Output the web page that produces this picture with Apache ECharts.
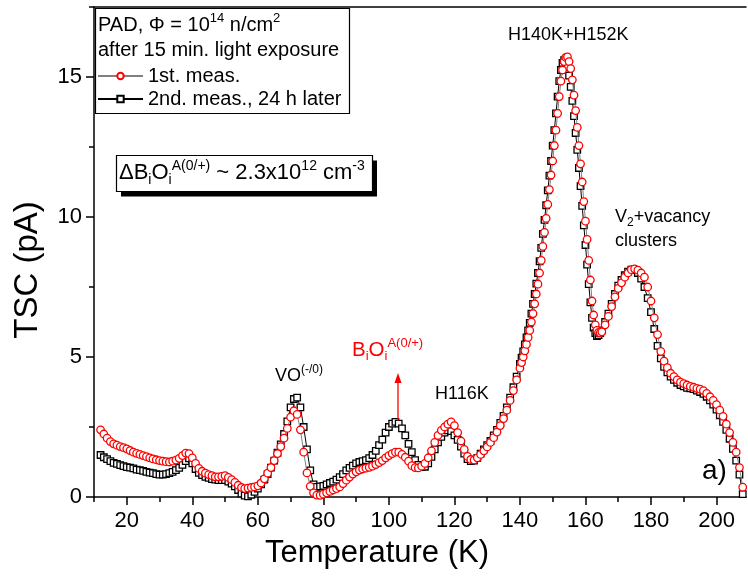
<!DOCTYPE html>
<html><head><meta charset="utf-8">
<script src="https://cdn.jsdelivr.net/npm/echarts@6/dist/echarts.min.js"></script>
<style>html,body{margin:0;padding:0;background:#fff}#c{width:748px;height:579px}</style>
</head><body><div id="c"></div>
<script>
// Temperature (K) sample points
var temps = [12,13,14,15,16,17,18,19,20,21,22,23,24,25,26,27,28,29,30,31,32,33,34,35,36,37,38,39,40,41,
42,43,44,45,46,47,48,49,50,51,52,53,54,55,56,57,58,59,60,61,62,63,64,65,66,67,68,69,70,71,
72,73,74,75,76,77,78,79,80,81,82,83,84,85,86,87,88,89,90,91,92,93,94,95,96,97,98,99,100,101,
102,103,104,105,106,107,108,109,110,111,112,113,114,115,116,117,118,119,120,121,122,123,124,125,126,127,128,129,130,131,
132,133,134,135,136,137,138,139,
140,140.5,141,141.5,142,142.5,143,143.5,144,144.5,145,145.5,146,146.5,147,147.5,148,148.5,149,149.5,
150,150.5,151,151.5,152,152.5,153,153.5,154,154.5,155,155.5,156,156.5,157,157.5,158,158.5,159,159.5,
160,160.5,161,161.5,162,162.5,163,163.5,164,164.5,
165,166,167,168,169,170,171,172,173,174,175,176,177,178,179,180,181,182,183,184,
185,186,187,188,189,190,191,192,193,194,195,196,197,198,199,200,201,202,203,204,205,206,207,208];

// 1st meas. (pA)
var meas1 = [2.40,2.25,2.10,1.98,1.90,1.85,1.80,1.76,1.72,1.66,1.60,1.56,1.52,1.48,1.44,1.40,1.36,1.33,1.30,1.28,
1.26,1.25,1.28,1.32,1.38,1.48,1.57,1.55,1.40,1.20,1.02,0.92,0.85,0.80,0.76,0.72,0.72,0.74,0.76,0.70,
0.62,0.52,0.42,0.34,0.30,0.32,0.34,0.36,0.40,0.50,0.65,0.85,1.05,1.30,1.55,1.80,2.10,2.45,2.85,3.08,
2.95,2.40,1.60,0.86,0.38,0.15,0.07,0.06,0.10,0.15,0.20,0.25,0.30,0.36,0.48,0.60,0.71,0.82,0.90,0.96,
1.00,1.03,1.06,1.10,1.16,1.23,1.30,1.40,1.48,1.55,1.60,1.60,1.52,1.42,1.28,1.12,1.05,1.04,1.10,1.20,
1.40,1.65,1.95,2.20,2.38,2.50,2.60,2.68,2.55,2.30,2.00,1.70,1.45,1.34,1.32,1.40,1.52,1.65,1.79,1.95,
2.12,2.32,2.55,2.80,3.10,3.45,3.80,4.18,
4.60,4.80,5.00,5.22,5.45,5.70,5.95,6.25,6.55,6.90,7.25,7.60,8.00,8.45,8.95,9.45,9.95,10.45,10.98,11.50,
12.00,12.55,13.10,13.70,14.30,14.85,15.25,15.55,15.70,15.72,15.55,15.30,14.90,14.35,13.80,13.20,12.55,11.90,11.25,10.55,
9.85,9.20,8.45,7.75,7.00,6.50,6.15,5.95,5.88,5.86,
5.90,6.15,6.45,6.80,7.15,7.45,7.65,7.85,8.00,8.12,8.15,8.10,8.00,7.85,7.50,7.00,6.40,5.80,5.20,4.85,
4.62,4.42,4.30,4.18,4.10,4.05,4.00,3.95,3.92,3.88,3.85,3.80,3.70,3.58,3.45,3.30,3.10,2.88,2.60,2.30,1.95,1.60,1.05,0.35];

// 2nd meas., 24 h later (pA)
var meas2 = [1.50,1.42,1.35,1.28,1.22,1.18,1.14,1.10,1.07,1.05,1.02,0.98,0.96,0.93,0.90,0.87,0.85,0.82,0.80,0.80,
0.82,0.85,0.90,0.96,1.04,1.15,1.28,1.38,1.20,1.00,0.86,0.78,0.72,0.68,0.64,0.62,0.60,0.60,0.60,0.55,
0.48,0.38,0.25,0.12,0.05,0.02,0.08,0.18,0.30,0.45,0.62,0.82,1.05,1.30,1.58,1.88,2.25,2.70,3.20,3.50,
3.55,3.20,2.50,1.70,0.95,0.45,0.36,0.38,0.40,0.45,0.50,0.55,0.62,0.71,0.82,0.95,1.04,1.12,1.20,1.25,
1.28,1.32,1.39,1.50,1.65,1.85,2.05,2.30,2.50,2.62,2.68,2.62,2.45,2.20,1.90,1.60,1.32,1.15,1.07,1.08,
1.20,1.43,1.70,1.95,2.15,2.30,2.38,2.35,2.20,2.04,1.80,1.55,1.35,1.28,1.30,1.40,1.55,1.70,1.85,2.00,
2.20,2.40,2.65,2.90,3.20,3.55,3.92,4.30,
4.75,4.98,5.20,5.45,5.70,5.95,6.22,6.55,6.90,7.25,7.62,8.00,8.42,8.90,9.40,9.90,10.42,10.95,11.48,12.00,
12.55,13.10,13.70,14.30,14.85,15.25,15.50,15.60,15.55,15.35,15.05,14.65,14.15,13.60,13.00,12.40,11.75,11.10,10.40,9.70,
9.00,8.30,7.60,6.95,6.40,6.05,5.85,5.75,5.78,5.85,
5.95,6.25,6.55,6.90,7.25,7.55,7.75,7.92,8.05,8.12,8.10,8.00,7.80,7.50,7.10,6.60,6.00,5.40,4.95,4.65,
4.45,4.30,4.18,4.08,4.00,3.95,3.90,3.88,3.85,3.80,3.75,3.68,3.58,3.45,3.30,3.12,2.92,2.68,2.40,2.08,1.72,1.30,0.80,0.10];

var xMajorTicks = [20,40,60,80,100,120,140,160,180,200];
var xMinorTicks = [10,30,50,70,90,110,130,150,170,190];
var yMajorTicks = [0,5,10,15];
var yMinorTicks = [2.5,7.5,12.5,17.5];

var F = 'Liberation Sans, Arial, sans-serif';
function pairs(xs, ys){ var out=[]; for(var i=0;i<xs.length;i++){ out.push([xs[i], ys[i]]); } return out; }

var chart = echarts.init(document.getElementById('c'), null, {renderer:'canvas'});

function rt(txt, x, y, size, color){
  var s = Math.round(size*0.64);
  var c = color||'#000';
  return {type:'text', z: 100, style: {
    text: txt, x: x, y: y, fill: c, font: size+'px '+F,
    verticalAlign: 'middle', align: 'left',
    rich: {
      n: {fontSize: size, fontFamily: F, lineHeight: size+6, fill: c},
      sp: {fontSize: s, fontFamily: F, lineHeight: s+2, verticalAlign: 'top', fill: c},
      sb: {fontSize: s, fontFamily: F, lineHeight: s+2, verticalAlign: 'bottom', fill: c}
    }
  }};
}

var option = {
  animation: false,
  backgroundColor: '#fff',
  grid: {left: 94, right: 2, top: 7, bottom: 82, containLabel: false},
  xAxis: [
    {type:'value', min:10, max:209, position:'bottom',
     axisLine:{lineStyle:{color:'#000', width:1.5}},
     axisTick:{customValues: xMajorTicks, length:8, lineStyle:{color:'#000', width:1.5}},
     axisLabel:{customValues: xMajorTicks, fontSize:22, fontFamily:F, color:'#000', margin:13},
     splitLine:{show:false}},
    {type:'value', min:10, max:209, position:'bottom',
     axisLine:{show:false},
     axisTick:{customValues: xMinorTicks, length:5, lineStyle:{color:'#000', width:1.5}},
     axisLabel:{show:false}, splitLine:{show:false}},
    {type:'value', min:10, max:209, position:'top',
     axisLine:{show:true, lineStyle:{color:'#000', width:1.5}},
     axisTick:{show:false}, axisLabel:{show:false}, splitLine:{show:false}}
  ],
  yAxis: [
    {type:'value', min:0, max:17.5, position:'left',
     axisLine:{show:true, lineStyle:{color:'#000', width:1.5}},
     axisTick:{show:true, customValues: yMajorTicks, length:8, lineStyle:{color:'#000', width:1.5}},
     axisLabel:{customValues: yMajorTicks, fontSize:22, fontFamily:F, color:'#000', margin:12},
     splitLine:{show:false}},
    {type:'value', min:0, max:17.5, position:'left',
     axisLine:{show:false},
     axisTick:{show:true, customValues: yMinorTicks, length:5, lineStyle:{color:'#000', width:1.5}},
     axisLabel:{show:false}, splitLine:{show:false}}
  ],
  legend: {
    orient:'vertical', left: 97, top: 66, padding: 0, itemGap: 3, z: 10,
    itemWidth: 45, itemHeight: 8,
    textStyle:{fontSize:20, fontFamily:F, color:'#000', lineHeight:20},
    data:['1st. meas.','2nd. meas., 24 h later']
  },
  series: [
    {name:'2nd. meas., 24 h later', type:'line', xAxisIndex:0, yAxisIndex:0, z:2,
     data: pairs(temps, meas2), symbol:'rect', symbolSize:6.5, showAllSymbol:true,
     lineStyle:{color:'#000', width:1}, itemStyle:{color:'#fff', borderColor:'#000', borderWidth:1.3}},
    {name:'1st. meas.', type:'line', xAxisIndex:0, yAxisIndex:0, z:3,
     data: pairs(temps, meas1), symbol:'circle', symbolSize:7.5, showAllSymbol:true,
     lineStyle:{color:'#808080', width:1}, itemStyle:{color:'#fff', borderColor:'#ff0000', borderWidth:1.3}}
  ],
  graphic: [
    {type:'rect', z:1, shape:{x:95.5, y:8.5, width:254, height:105}, style:{fill:'#fff', stroke:'#000', lineWidth:1.2}},
    rt('{n|PAD, Φ = 10}{sp|14}{n| n/cm}{sp|2}', 98, 25, 20),
    rt('{n|after 15 min. light exposure}', 98, 50, 20),
    {type:'rect', z:50, shape:{x:121, y:160.5, width:256, height:36}, style:{fill:'#000'}},
    {type:'rect', z:51, shape:{x:116.5, y:155.5, width:256, height:36}, style:{fill:'#fff', stroke:'#000', lineWidth:1.2}},
    rt('{n|ΔB}{sb|i}{n|O}{sb|i}{sp|A(0/+)}{n| ~ 2.3x10}{sp|12}{n| cm}{sp|-3}', 119, 173, 22),
    rt('{n|H140K+H152K}', 508, 35, 18),
    rt('{n|V}{sb|2}{n|+vacancy}', 615, 217, 18),
    rt('{n|clusters}', 615, 241, 18),
    rt('{n|VO}{sp|(-/0)}', 275, 376, 18),
    rt('{n|B}{sb|i}{n|O}{sb|i}{sp|A(0/+)}', 352, 350, 20.5, '#ff0000'),
    rt('{n|H116K}', 435, 394, 18),
    rt('{n|a)}', 702, 471, 28),
    {type:'line', z:60, shape:{x1:398, y1:421, x2:398, y2:382}, style:{stroke:'#ff0000', lineWidth:1.3}},
    {type:'polygon', z:60, shape:{points:[[398,373],[394.5,383],[401.5,383]]}, style:{fill:'#ff0000'}},
    {type:'text', z:100, style:{text:'Temperature (K)', x:377, y:553, align:'center', verticalAlign:'middle', font:'31px '+F, fill:'#000'}},
    {type:'text', z:100, rotation: Math.PI/2, x:28, y:270, style:{text:'TSC (pA)', x:0, y:0, align:'center', verticalAlign:'middle', font:'33px '+F, fill:'#000'}}
  ]
};
chart.setOption(option);
</script></body></html>
